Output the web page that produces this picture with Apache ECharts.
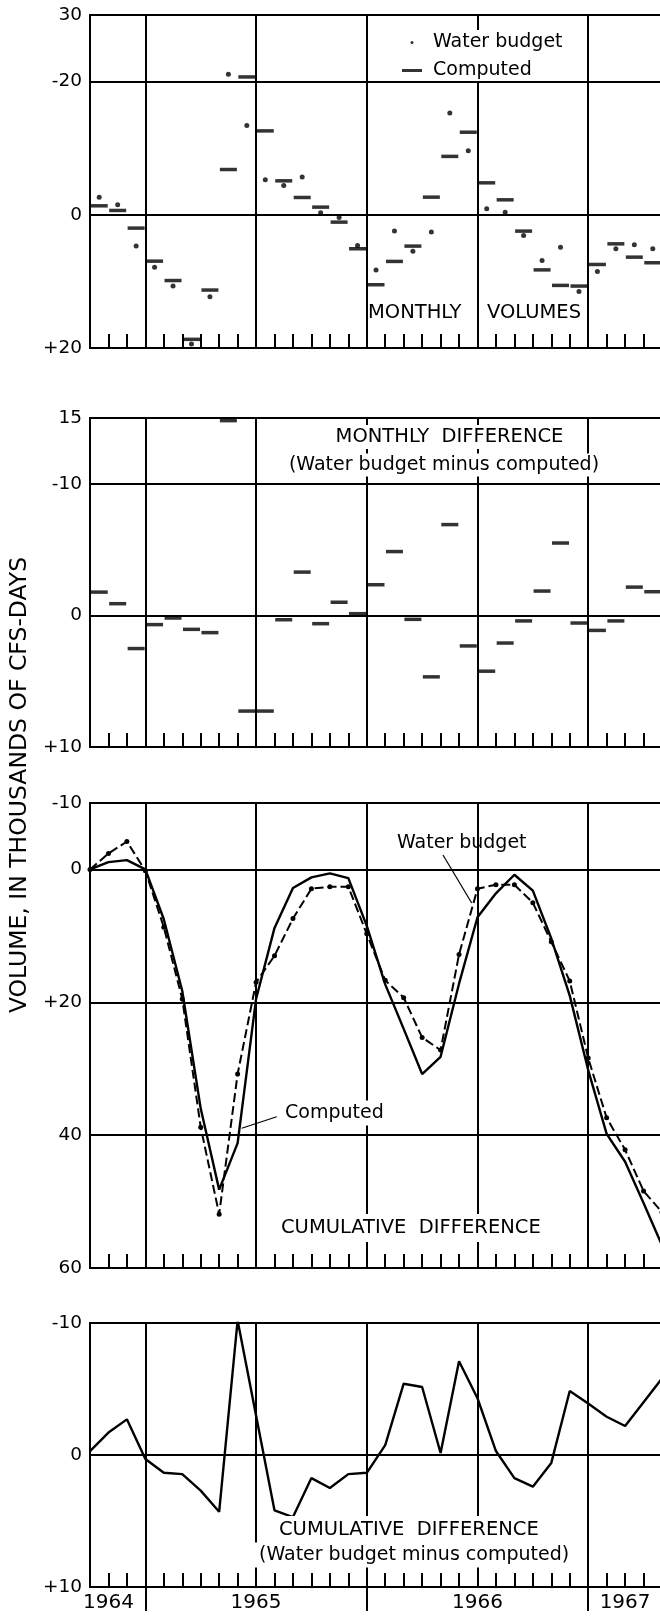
<!DOCTYPE html>
<html>
<head>
<meta charset="utf-8">
<script src="https://cdn.jsdelivr.net/npm/echarts@6/dist/echarts.min.js"></script>
<style>
  html, body { margin: 0; padding: 0; background: #fff; }
  #chart { width: 660px; height: 1618px; }
</style>
</head>
<body>
<div id="chart"></div>
<script>
// Months of record (water year starts in October 1964)
const months = [
  '1964-10','1964-11','1964-12',
  '1965-01','1965-02','1965-03','1965-04','1965-05','1965-06',
  '1965-07','1965-08','1965-09','1965-10','1965-11','1965-12',
  '1966-01','1966-02','1966-03','1966-04','1966-05','1966-06',
  '1966-07','1966-08','1966-09','1966-10','1966-11','1966-12',
  '1967-01','1967-02','1967-03','1967-04'
];
// Month boundaries (first day of each month) for cumulative values
const boundaries = months.concat(['1967-05']);

// Monthly volumes, thousands of cfs-days
const waterBudgetMonthly = [
  -2.65, -1.5, 4.7, 7.86, 10.7, 19.4, 12.3, -21.1, -13.4, -5.26,
  -4.4, -5.67, -0.3, 0.4, 4.6, 8.3, 2.45, 5.46, 2.6, -15.3,
  -9.6, -0.9, -0.4, 3.1, 6.87, 4.86, 11.5, 8.5, 5.1, 4.5, 5.1
];
const computedMonthly = [
  -1.35, -0.65, 2.0, 6.96, 9.87, 18.7, 11.3, -6.8, -20.7, -12.6,
  -5.1, -2.6, -1.15, 1.1, 5.1, 10.5, 7.0, 4.7, -2.65, -8.77,
  -12.4, -4.8, -2.25, 2.45, 8.27, 10.6, 10.7, 7.46, 4.36, 6.36, 7.2
];
// Monthly difference (water budget minus computed)
const monthlyDifference = [
  -1.77, -0.89, 2.52, 0.7, 0.2, 1.06, 1.31, -14.8, 7.27, 7.27,
  0.33, -3.29, 0.63, -1.0, -0.13, -2.33, -4.85, 0.3, 4.67, -6.9,
  2.32, 4.24, 2.1, 0.42, -1.85, -5.5, 0.58, 1.14, 0.42, -2.15, -1.8
];
// Cumulative volumes at month boundaries
const computedCumulative = [
  0, -1.1, -1.4, 0, 7.5, 18.3, 36.0, 48.2, 41.2, 19.5,
  8.8, 2.8, 1.2, 0.6, 1.3, 8.5, 17.3, 24.0, 30.8, 28.2,
  17.2, 7.2, 3.6, 0.8, 3.2, 10.4, 19.0, 30.2, 39.8, 44.0, 50.2, 56.6
];
const waterBudgetCumulative = [
  0, -2.4, -4.2, 0.2, 8.7, 19.5, 38.8, 51.9, 30.8, 17.0,
  13.0, 7.4, 2.9, 2.6, 2.6, 9.7, 16.7, 19.3, 25.3, 27.2,
  12.8, 2.9, 2.3, 2.3, 5.0, 10.9, 16.8, 28.4, 37.4, 42.2, 48.4, 51.6
];
// Cumulative difference (water budget minus computed)
const cumulativeDifference = [
  -0.3, -1.7, -2.7, 0.3, 1.35, 1.45, 2.7, 4.3, -10.2, -3.0,
  4.2, 4.7, 1.75, 2.5, 1.45, 1.35, -0.75, -5.4, -5.15, -0.15,
  -7.1, -4.3, -0.3, 1.75, 2.4, 0.6, -4.85, -3.9, -2.9, -2.2, -4.0, -5.8
];

// Y tick labels per panel (axis runs downward: positive values at the bottom)
const volumeTicks = [-30, -20, 0, 20];
const volumeTickLabels = ['30', '-20', '0', '+20'];
const monthlyDiffTicks = [-15, -10, 0, 10];
const monthlyDiffTickLabels = ['15', '-10', '0', '+10'];
const cumulativeTicks = [-10, 0, 20, 40, 60];
const cumulativeTickLabels = ['-10', '0', '+20', '40', '60'];
const cumDiffTicks = [-10, 0, 10];
const cumDiffTickLabels = ['-10', '0', '+10'];

// Horizontal rules per panel
const volumeRules = [-20, 0];
const monthlyDiffRules = [-10, 0];
const cumulativeRules = [0, 20, 40];
const cumDiffRules = [0];

// Year captions along the bottom axis
const yearLabels = { '1964-11': '1964', '1965-07': '1965', '1966-07': '1966', '1967-03': '1967' };

const FONT = '"DejaVu Sans", "Liberation Sans", sans-serif';
const INK = '#000';

const isHalfYear = (i, v) => v.endsWith('-01') || v.endsWith('-07');
const isYearStart = (i, v) => v.endsWith('-01');

function tickFormatter(ticks, labels) {
  return v => {
    const i = ticks.findIndex(t => Math.abs(t - v) < 1e-9);
    return i < 0 ? '' : labels[i];
  };
}

function panelGrid(top, height) {
  return {
    left: 90, top: top, width: 572, height: height,
    show: true, borderColor: INK, borderWidth: 2,
    backgroundColor: 'transparent', containLabel: false, outerBoundsMode: 'none'
  };
}

function monthAxis(gridIndex, data, onBand) {
  return {
    type: 'category', gridIndex: gridIndex, data: data, boundaryGap: onBand,
    axisLine: { show: false, onZero: false },
    axisTick: { show: true, inside: true, length: 14, interval: 0, lineStyle: { color: INK, width: 2 } },
    axisLabel: { show: false },
    splitLine: { show: true, interval: isHalfYear, lineStyle: { color: INK, width: 2 } }
  };
}

function valueAxis(gridIndex, min, max, interval, ticks, labels) {
  return {
    type: 'value', gridIndex: gridIndex, inverse: true,
    min: min, max: max, interval: interval,
    axisLine: { show: false },
    axisTick: { show: false },
    splitLine: { show: false },
    axisLabel: {
      show: true, margin: 8, color: INK, fontFamily: FONT, fontSize: 18.5,
      formatter: tickFormatter(ticks, labels)
    }
  };
}

function rules(values) {
  return {
    silent: true, animation: false, symbol: ['none', 'none'],
    label: { show: false },
    lineStyle: { color: INK, width: 2, type: 'solid' },
    emphasis: { disabled: true },
    data: values.map(v => ({ yAxis: v }))
  };
}

function caption(text, x, y, opts) {
  opts = opts || {};
  const style = {
    text: text, x: 0, y: 0,
    font: (opts.size || 19.5) + 'px ' + FONT,
    fill: INK,
    align: opts.align || 'left', textAlign: opts.align || 'left',
    verticalAlign: 'middle', textVerticalAlign: 'middle'
  };
  if (opts.bg) { style.backgroundColor = '#fff'; style.padding = opts.pad || [3, 4]; }
  return { type: 'text', x: x, y: y, rotation: opts.rotation || 0, z: 50, silent: true, style: style };
}

function leader(x1, y1, x2, y2) {
  return { type: 'line', z: 50, silent: true, shape: { x1, y1, x2, y2 }, style: { stroke: INK, lineWidth: 1.2 } };
}

const chart = echarts.init(document.getElementById('chart'), null, { renderer: 'canvas' });

chart.setOption({
  animation: false,
  backgroundColor: '#fff',
  textStyle: { fontFamily: FONT, color: INK },
  legend: {
    left: 400, top: 30, orient: 'vertical',
    itemWidth: 20, itemHeight: 3, itemGap: 9,
    selectedMode: false, backgroundColor: '#fff', padding: [3, 10, 3, 2],
    data: [ { name: 'Water budget', icon: 'circle' }, { name: 'Computed', icon: 'rect' } ],
    textStyle: { fontFamily: FONT, fontSize: 19, color: INK, padding: [0, 0, 0, 6] }
  },
  grid: [
    panelGrid(15, 333),
    panelGrid(418, 329),
    panelGrid(803, 465),
    panelGrid(1323, 264)
  ],
  xAxis: [
    monthAxis(0, months, true),
    monthAxis(1, months, true),
    monthAxis(2, boundaries, false),
    monthAxis(3, boundaries, false),
    {
      type: 'category', gridIndex: 3, data: boundaries, boundaryGap: false, position: 'bottom',
      axisLine: { show: false, onZero: false },
      axisTick: { show: true, inside: false, length: 24, interval: isYearStart, lineStyle: { color: INK, width: 2 } },
      axisLabel: {
        show: true, margin: 6, color: INK, fontFamily: FONT, fontSize: 20,
        interval: (i, v) => v in yearLabels,
        formatter: v => yearLabels[v] || ''
      },
      splitLine: { show: false }
    }
  ],
  yAxis: [
    valueAxis(0, -30, 20, 10, volumeTicks, volumeTickLabels),
    valueAxis(1, -15, 10, 5, monthlyDiffTicks, monthlyDiffTickLabels),
    valueAxis(2, -10, 60, 10, cumulativeTicks, cumulativeTickLabels),
    valueAxis(3, -10, 10, 10, cumDiffTicks, cumDiffTickLabels)
  ],
  series: [
    {
      name: 'Computed', type: 'scatter', xAxisIndex: 0, yAxisIndex: 0,
      data: computedMonthly, symbol: 'rect', symbolSize: [17, 3.5],
      itemStyle: { color: INK }, markLine: rules(volumeRules)
    },
    {
      name: 'Water budget', type: 'scatter', xAxisIndex: 0, yAxisIndex: 0,
      data: waterBudgetMonthly, symbol: 'circle', symbolSize: 5,
      itemStyle: { color: INK }
    },
    {
      name: 'Monthly difference', type: 'scatter', xAxisIndex: 1, yAxisIndex: 1,
      data: monthlyDifference, symbol: 'rect', symbolSize: [17, 3.5],
      itemStyle: { color: INK }, markLine: rules(monthlyDiffRules)
    },
    {
      name: 'Computed', type: 'line', xAxisIndex: 2, yAxisIndex: 2,
      data: computedCumulative, symbol: 'none',
      lineStyle: { color: INK, width: 2.4, type: 'solid' },
      itemStyle: { color: INK }, markLine: rules(cumulativeRules)
    },
    {
      name: 'Water budget', type: 'line', xAxisIndex: 2, yAxisIndex: 2,
      data: waterBudgetCumulative, symbol: 'circle', symbolSize: 5, showSymbol: true, showAllSymbol: true,
      lineStyle: { color: INK, width: 2, type: [9, 4] },
      itemStyle: { color: INK }
    },
    {
      name: 'Cumulative difference', type: 'line', xAxisIndex: 3, yAxisIndex: 3,
      data: cumulativeDifference, symbol: 'none',
      lineStyle: { color: INK, width: 2.4 },
      itemStyle: { color: INK }, markLine: rules(cumDiffRules)
    }
  ],
  graphic: [
    caption('VOLUME, IN THOUSANDS OF CFS-DAYS', 20, 785, { size: 23.5, align: 'center', rotation: Math.PI / 2 }),
    caption('MONTHLY', 368, 313),
    caption('VOLUMES', 487, 313),
    caption('MONTHLY  DIFFERENCE', 449.5, 437, { align: 'center', bg: true, pad: [2, 6] }),
    caption('(Water budget minus computed)', 444, 465, { size: 19, align: 'center', bg: true, pad: [2, 4] }),
    caption('Water budget', 397, 843, { size: 19 }),
    leader(443, 855, 471.7, 903),
    caption('Computed', 282, 1113, { size: 19, bg: true, pad: [3, 3] }),
    leader(276.7, 1116.7, 241.7, 1128.3),
    caption('CUMULATIVE  DIFFERENCE', 277, 1228, { bg: true, pad: [4, 4] }),
    caption('CUMULATIVE  DIFFERENCE', 275, 1530, { bg: true, pad: [4, 4] }),
    caption('(Water budget minus computed)', 255, 1555, { size: 19, bg: true, pad: [3, 4] })
  ]
});
</script>
</body>
</html>
